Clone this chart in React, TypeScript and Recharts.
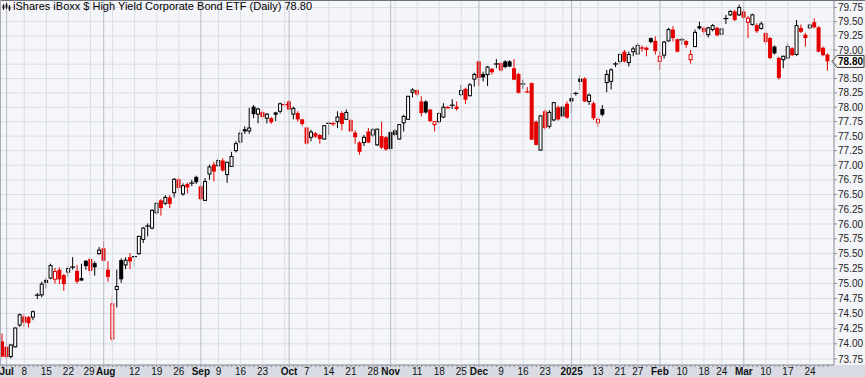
import React from 'react';
import { ComposedChart, Bar, XAxis, YAxis, CartesianGrid, ReferenceLine } from 'recharts';

// Trading-day index: -1 = Jun 28 2024, 0 = Jul 1 2024 ... 186 = Mar 28 2025
const FIRST_INDEX = -1;
const PRIOR_CLOSE = 74.1;

const openP = [
  74.04, 73.95, 73.79, 73.95, 74.31, 74.45, 74.44, 74.44, 74.80, 74.81,
  75.06, 75.09, 75.07, 75.23, 75.14, 75.19, 75.27, 75.21, 75.09, 75.38,
  75.41, 75.34, 75.50, 75.59, 75.23, 74.08, 74.90, 75.39, 75.31, 75.44,
  75.45, 75.50, 75.74, 75.96, 75.93, 76.19, 76.40, 76.35, 76.45, 76.53,
  76.76, 76.51, 76.68, 76.69, 76.80, 76.64, 76.40, 76.85, 77.01, 76.99,
  77.08, 76.84, 76.98, 77.25, 77.40, 77.62, 77.59, 78.01, 77.88, 77.92,
  77.81, 77.81, 77.91, 77.93, 78.05, 78.10, 77.88, 77.90, 77.79, 77.65,
  77.48, 77.55, 77.52, 77.45, 77.72, 77.72, 77.75, 77.90, 77.79, 77.78,
  77.56, 77.39, 77.39, 77.58, 77.52, 77.35, 77.50, 77.48, 77.57, 77.60,
  77.45, 77.73, 77.79, 78.26, 78.30, 78.10, 78.10, 77.96, 77.70, 77.75,
  77.83, 78.00, 78.03, 78.01, 78.22, 78.32, 78.20, 78.49, 78.80, 78.58,
  78.57, 78.67, 78.75, 78.77, 78.80, 78.80, 78.68, 78.58, 78.40, 78.27,
  78.42, 77.75, 77.26, 77.93, 77.67, 77.78, 78.00, 78.01, 78.06, 78.16,
  78.24, 78.50, 78.50, 78.10, 78.07, 77.73, 77.97, 78.43, 78.45, 78.75,
  78.80, 78.97, 78.78, 78.97, 78.93, 79.04, 79.04, 79.21, 79.16, 78.80,
  78.91, 79.16, 79.36, 79.19, 79.18, 79.16, 78.83, 79.06, 79.42, 79.39,
  79.27, 79.36, 79.39, 79.28, 79.55, 79.62, 79.68, 79.62, 79.68, 79.49,
  79.45, 79.44, 79.38, 79.30, 79.21, 79.06, 78.86, 78.83, 78.86, 79.03,
  78.92, 79.39, 79.27, 79.39, 79.49, 79.40, 79.04, 78.92,
];
const highP = [
  74.17, 73.98, 73.99, 74.27, 74.50, 74.50, 74.46, 74.55, 74.84, 75.03,
  75.09, 75.33, 75.26, 75.27, 75.16, 75.29, 75.44, 75.31, 75.33, 75.39,
  75.44, 75.37, 75.61, 75.70, 75.37, 74.81, 75.23, 75.42, 75.44, 75.51,
  75.46, 75.80, 75.95, 76.01, 76.25, 76.38, 76.42, 76.49, 76.49, 76.78,
  76.80, 76.69, 76.70, 76.75, 76.82, 76.66, 76.78, 77.01, 77.06, 77.12,
  77.12, 77.06, 77.23, 77.41, 77.62, 77.67, 77.99, 78.04, 77.99, 77.97,
  77.90, 77.83, 77.92, 78.08, 78.10, 78.12, 78.01, 77.93, 77.80, 77.66,
  77.61, 77.57, 77.54, 77.69, 77.75, 77.75, 77.93, 77.93, 77.96, 77.80,
  77.60, 77.41, 77.52, 77.64, 77.64, 77.63, 77.75, 77.50, 77.59, 77.62,
  77.71, 77.87, 78.20, 78.33, 78.31, 78.19, 78.12, 77.97, 77.76, 77.91,
  78.07, 78.02, 78.14, 78.10, 78.39, 78.34, 78.42, 78.60, 78.81, 78.62,
  78.72, 78.68, 78.84, 78.79, 78.82, 78.82, 78.84, 78.60, 78.48, 78.35,
  78.43, 77.77, 77.86, 77.96, 77.95, 78.09, 78.03, 78.03, 78.10, 78.25,
  78.27, 78.56, 78.52, 78.24, 78.10, 77.82, 78.04, 78.65, 78.68, 78.79,
  78.94, 79.00, 78.97, 79.06, 79.12, 79.08, 79.06, 79.22, 79.24, 78.97,
  79.16, 79.39, 79.42, 79.20, 79.22, 79.17, 79.00, 79.36, 79.50, 79.41,
  79.41, 79.46, 79.41, 79.39, 79.62, 79.70, 79.71, 79.80, 79.71, 79.60,
  79.64, 79.47, 79.50, 79.32, 79.23, 79.08, 78.88, 78.90, 79.11, 79.05,
  79.53, 79.45, 79.30, 79.46, 79.56, 79.42, 79.06, 78.94,
];
const lowP = [
  73.78, 73.77, 73.76, 73.94, 74.28, 74.28, 74.27, 74.39, 74.74, 74.77,
  74.92, 75.07, 75.00, 74.99, 74.88, 75.11, 75.23, 75.00, 75.04, 75.23,
  75.14, 75.13, 75.48, 75.37, 75.03, 74.02, 74.60, 75.01, 75.24, 75.24,
  75.27, 75.48, 75.68, 75.79, 75.91, 76.15, 76.14, 76.32, 76.27, 76.45,
  76.57, 76.48, 76.52, 76.64, 76.68, 76.40, 76.39, 76.75, 76.72, 76.97,
  76.89, 76.70, 76.97, 77.22, 77.37, 77.54, 77.54, 77.81, 77.72, 77.79,
  77.72, 77.71, 77.76, 77.89, 78.00, 77.95, 77.79, 77.75, 77.68, 77.35,
  77.41, 77.47, 77.37, 77.44, 77.52, 77.67, 77.64, 77.60, 77.78, 77.58,
  77.37, 77.18, 77.33, 77.38, 77.49, 77.33, 77.28, 77.25, 77.25, 77.50,
  77.44, 77.58, 77.78, 78.17, 78.20, 77.84, 77.89, 77.74, 77.58, 77.72,
  77.81, 77.97, 77.97, 77.94, 78.19, 78.06, 78.19, 78.36, 78.37, 78.45,
  78.37, 78.57, 78.68, 78.62, 78.68, 78.70, 78.47, 78.24, 78.32, 78.25,
  77.43, 77.34, 77.25, 77.61, 77.63, 77.76, 77.77, 77.83, 77.80, 77.90,
  78.20, 78.30, 78.09, 78.04, 77.78, 77.66, 77.84, 78.26, 78.31, 78.70,
  78.76, 78.78, 78.71, 78.89, 78.92, 78.97, 78.89, 79.12, 78.92, 78.65,
  78.85, 79.15, 79.15, 78.96, 79.09, 79.04, 78.76, 79.05, 79.36, 79.28,
  79.22, 79.33, 79.24, 79.26, 79.46, 79.60, 79.51, 79.60, 79.55, 79.21,
  79.43, 79.30, 79.36, 79.10, 78.84, 78.92, 78.48, 78.68, 78.85, 78.89,
  78.90, 79.30, 79.06, 79.37, 79.38, 78.96, 78.89, 78.64,
];
const closeP = [
  73.79, 73.78, 73.98, 74.26, 74.48, 74.35, 74.34, 74.53, 74.81, 74.99,
  75.01, 75.30, 75.20, 75.07, 74.99, 75.25, 75.28, 75.03, 75.05, 75.29,
  75.21, 75.27, 75.56, 75.38, 75.11, 74.66, 74.95, 75.07, 75.39, 75.37,
  75.45, 75.79, 75.93, 75.97, 76.23, 76.35, 76.27, 76.45, 76.34, 76.76,
  76.61, 76.65, 76.62, 76.70, 76.71, 76.42, 76.72, 76.97, 76.89, 77.08,
  76.91, 77.05, 77.15, 77.37, 77.55, 77.58, 77.64, 77.88, 77.97, 77.83,
  77.88, 77.74, 77.87, 78.06, 78.04, 77.96, 77.98, 77.79, 77.71, 77.37,
  77.57, 77.49, 77.45, 77.68, 77.72, 77.71, 77.83, 77.71, 77.91, 77.58,
  77.48, 77.23, 77.48, 77.39, 77.61, 77.62, 77.30, 77.27, 77.28, 77.52,
  77.70, 77.84, 78.19, 78.30, 78.22, 77.90, 77.91, 77.76, 77.75, 77.89,
  78.00, 77.99, 78.04, 77.97, 78.29, 78.13, 78.39, 78.57, 78.51, 78.52,
  78.70, 78.61, 78.76, 78.64, 78.70, 78.71, 78.48, 78.25, 78.41, 78.26,
  77.44, 77.35, 77.85, 77.64, 77.91, 78.08, 77.79, 77.84, 77.82, 78.10,
  78.24, 78.44, 78.10, 78.21, 77.81, 77.79, 77.87, 78.57, 78.65, 78.76,
  78.92, 78.80, 78.92, 79.02, 79.08, 79.03, 79.00, 79.14, 78.98, 78.89,
  79.14, 79.36, 79.21, 78.97, 79.18, 79.09, 78.92, 79.31, 79.38, 79.32,
  79.39, 79.43, 79.26, 79.37, 79.56, 79.68, 79.53, 79.75, 79.57, 79.56,
  79.62, 79.33, 79.46, 79.14, 78.86, 78.94, 78.51, 78.89, 79.06, 78.91,
  79.43, 79.32, 79.21, 79.44, 79.40, 78.97, 78.91, 78.80,
];

const labelIdx = [0, 4, 9, 14, 19, 22, 29, 34, 39, 44, 48, 53, 58, 64, 68, 73, 78, 83, 87, 93, 98, 103, 107, 112, 117, 122, 128, 134, 139, 143, 148, 153, 158, 162, 167, 172, 177, 182];
const labelText = ['Jul', '8', '15', '22', '29', 'Aug', '12', '19', '26', 'Sep', '9', '16', '23', 'Oct', '7', '14', '21', '28', 'Nov', '11', '18', '25', 'Dec', '9', '16', '23', '2025', '13', '21', '27', 'Feb', '10', '18', '24', 'Mar', '10', '17', '24'];
const monthIdx = [0, 22, 44, 64, 87, 107, 128, 148, 167];
const extraGridIdx = [24, 63, 88, 126, 130];
const yTicks = [73.75, 74, 74.25, 74.5, 74.75, 75, 75.25, 75.5, 75.75, 76, 76.25, 76.5, 76.75, 77, 77.25, 77.5, 77.75, 78, 78.25, 78.5, 78.75, 79, 79.25, 79.5, 79.75];
const TITLE = 'iShares iBoxx $ High Yield Corporate Bond ETF (Daily)';

const RED = '#e50000';
const BLACK = '#000000';

const data = openP.map((o, k) => {
  const c = closeP[k];
  const h = Math.max(highP[k], o, c);
  const l = Math.min(lowP[k], o, c);
  const prev = k === 0 ? PRIOR_CLOSE : closeP[k - 1];
  return { i: k + FIRST_INDEX, open: o, close: c, high: h, low: l, prev, range: [l, h] };
});
const dayTicks = data.map((d) => d.i);
const lastClose = closeP[closeP.length - 1];

const Candle = (props: any) => {
  const { x, y, width, height, payload } = props;
  if (x == null || y == null || !payload) return null;
  const { open, close, high, low, prev } = payload;
  const top = Math.min(y, y + height);
  const bot = Math.max(y, y + height);
  const lh = Math.log(high);
  const ll = Math.log(low);
  const span = lh - ll || 1;
  const py = (v: number) => top + ((bot - top) * (lh - Math.log(v))) / span;
  const cx = x + width / 2;
  const color = close < prev ? RED : BLACK;
  const yo = py(open);
  const yc = py(close);
  const bTop = Math.min(yo, yc);
  const bH = Math.abs(yo - yc);
  const hollow = close > open;
  return (
    <g>
      <line x1={cx} x2={cx} y1={top} y2={bot} stroke={color} strokeWidth={1} />
      {bH < 1.2 ? (
        <line x1={cx - 2.5} x2={cx + 2.5} y1={bTop + bH / 2} y2={bTop + bH / 2} stroke={color} strokeWidth={1.2} />
      ) : hollow ? (
        <rect x={cx - 1.5} y={bTop} width={3} height={bH} fill="#ffffff" stroke={color} strokeWidth={1} />
      ) : (
        <rect x={cx - 2} y={bTop} width={4} height={bH} fill={color} />
      )}
    </g>
  );
};

const XTick = (props: any) => {
  const { x, y, payload } = props;
  const v = payload.value;
  const li = labelIdx.indexOf(v);
  const isMonth = monthIdx.includes(v);
  const isGrid = li >= 0 || extraGridIdx.includes(v);
  const txt = li >= 0 ? labelText[li] : '';
  const bold = txt !== '' && (isNaN(Number(txt)) || txt.length === 4);
  // nudge labels that sit very close to a neighbour (e.g. "29" next to "Aug")
  let dx = 0;
  if (li >= 0) {
    if (li + 1 < labelIdx.length && labelIdx[li + 1] - v <= 3) dx = -1.5;
    if (li > 0 && v - labelIdx[li - 1] <= 3) dx = 2;
  }
  return (
    <g>
      {isGrid && <line x1={x} x2={x} y1={1} y2={y} stroke={isMonth ? '#b9bcc6' : '#dcdee6'} strokeWidth={1} />}
      <line x1={x} x2={x} y1={y} y2={y + 2} stroke="#8a8d96" strokeWidth={1} />
      {li >= 0 && (
        <text x={x + dx} y={y + 10} textAnchor="middle" fontSize={10} fontWeight={bold ? 'bold' : 'normal'} fill="#111">
          {txt}
        </text>
      )}
    </g>
  );
};

const PriceTag = (props: any) => {
  const vb = props.viewBox || {};
  const px = (vb.x || 0) + (vb.width || 0);
  const py = vb.y || 0;
  return (
    <g>
      <path d={`M${px - 2},${py} L${px + 3},${py - 6} L${px + 30},${py - 6} L${px + 30},${py + 6} L${px + 3},${py + 6} Z`} fill="#ffffff" stroke="#333" strokeWidth={1} />
      <text x={px + 4} y={py + 4} fontSize={10} fontWeight="bold" fill="#000">{lastClose.toFixed(2)}</text>
    </g>
  );
};

// the last-price tag hides the tick label it covers
const yTickLabel = (v: number) => (Math.abs(v - lastClose) < 0.1 ? '' : v.toFixed(2));

export default function App() {
  return (
    <div style={{ position: 'absolute', left: 0, top: 0, width: 865, height: 377, background: '#f4f5f9', overflow: 'hidden', fontFamily: '"Liberation Sans", Arial, sans-serif' }}>
      <div style={{ position: 'absolute', left: 0, top: 365, width: 865, height: 12, background: '#d8dbe3' }} />
      <div style={{ position: 'absolute', left: 0, top: 0 }}>
        <ComposedChart width={865} height={377} data={data} margin={{ top: 0, right: 0, bottom: 0, left: 0 }}>
          <CartesianGrid horizontal vertical={false} fill="#f5f6fa" stroke="#dcdee6" />
          <XAxis
            dataKey="i"
            type="number"
            domain={[-1.5, 187.44]}
            allowDataOverflow
            ticks={dayTicks}
            interval={0}
            tick={<XTick />}
            tickLine={false}
            tickSize={0}
            tickMargin={0}
            height={12}
            axisLine={{ stroke: '#8a8d96' }}
          />
          <YAxis
            orientation="right"
            scale="log"
            domain={[73.6515, 79.884]}
            allowDataOverflow
            ticks={yTicks}
            interval={0}
            width={31}
            tickFormatter={yTickLabel}
            tick={{ fontSize: 10, fill: '#222' }}
            tickSize={3}
            tickMargin={1}
            tickLine={{ stroke: '#8a8d96' }}
            axisLine={{ stroke: '#8a8d96' }}
          />
          <Bar dataKey="range" barSize={4} shape={<Candle />} isAnimationActive={false} />
          <ReferenceLine y={lastClose} stroke="none" ifOverflow="visible" label={<PriceTag />} />
        </ComposedChart>
      </div>
      <div style={{ position: 'absolute', left: 0, top: 0, width: 865, height: 1, background: '#6d7079' }} />
      <div style={{ position: 'absolute', left: 0, top: 0, width: 1, height: 365, background: '#a9acb5' }} />
      <svg style={{ position: 'absolute', left: 2, top: 3 }} width={9} height={8}>
        <line x1={1.5} x2={1.5} y1={1} y2={7} stroke="#222" />
        <line x1={4.5} x2={4.5} y1={0} y2={6} stroke="#222" />
        <line x1={7.5} x2={7.5} y1={2} y2={8} stroke="#222" />
        <rect x={0.5} y={2.5} width={2} height={3} fill="#222" />
        <rect x={3.5} y={1.5} width={2} height={3} fill="#222" />
        <rect x={6.5} y={3.5} width={2} height={3} fill="#222" />
      </svg>
      <div style={{ position: 'absolute', left: 13, top: 0, fontSize: 11, lineHeight: '13px', color: '#000', whiteSpace: 'nowrap' }}>
        {TITLE} {lastClose.toFixed(2)}
      </div>
    </div>
  );
}
